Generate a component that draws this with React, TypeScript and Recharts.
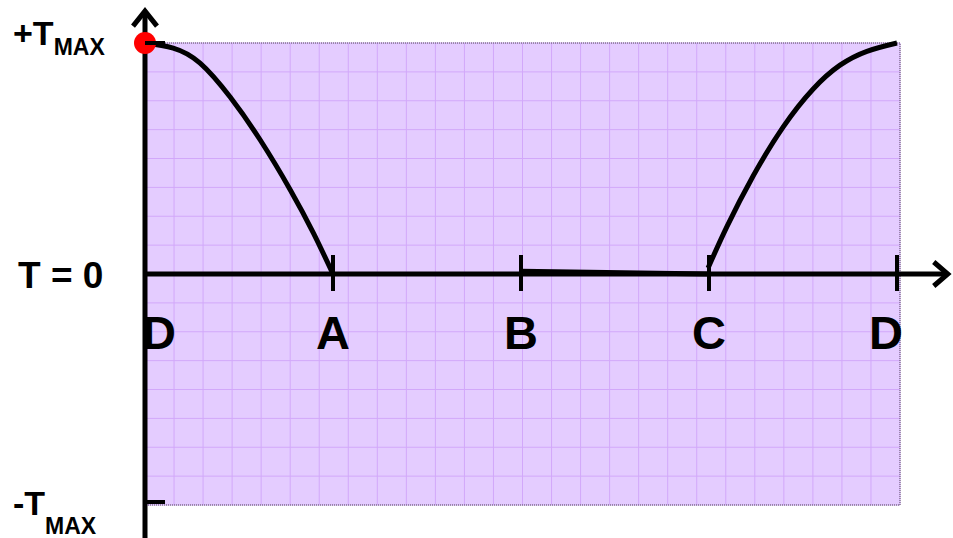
import { CartesianGrid, ComposedChart, Line, ReferenceArea, ReferenceLine, Scatter, XAxis, YAxis } from "recharts";

// ── data ───────────────────────────────────────────────
// D → A : torque falling from +Tmax to zero
const daX = [0, 0.15, 0.293, 0.453, 0.613, 0.773, 0.896, 1.0];
const daY = [1.0, 0.978, 0.913, 0.766, 0.58, 0.364, 0.177, 0.0];
// B → C : flat at zero
const bcX = [2.0, 3.0];
const bcY = [0.012, 0.0];
// C → D : rising back to +Tmax
const cdX = [2.995, 3.096, 3.234, 3.394, 3.553, 3.697, 3.84, 4.0];
const cdY = [0.026, 0.206, 0.423, 0.636, 0.8, 0.904, 0.964, 1.0];

const pointX = [0, 1, 2, 3, 4];
const pointLabels = ["D", "A", "B", "C", "D"];

const yTickValues = [1, 0, -1];
const yTickLabels = ["+T", "T = 0", "-T"];

const X_MAX = 4.016;
const xGrid = Array.from({ length: 27 }, (_, i) => (i * X_MAX) / 26);
const yGrid = Array.from({ length: 17 }, (_, i) => -1 + i * 0.125);

const zip = (xs: number[], ys: number[]) => xs.map((x, i) => ({ x, y: ys[i] }));
const daData = zip(daX, daY);
const bcData = zip(bcX, bcY);
const cdData = zip(cdX, cdY);
const letterData = pointX.map((x, i) => ({ x, y: 0, label: pointLabels[i] }));
const dotData = [{ x: 0, y: 1 }];

const FONT = "Arial, 'Liberation Sans', sans-serif";
const BG = "#E4CCFF";
const GRID = "#D2A8FA";

function YTick(props: any) {
  const { x, y, payload } = props;
  const idx = yTickValues.indexOf(payload.value);
  if (idx < 0) return <g />;
  const label = yTickLabels[idx];
  if (payload.value === 0) {
    return (
      <text x={x - 127} y={y + 14} fontFamily={FONT} fontWeight="bold" fontSize={37} fill="#000">
        {label}
      </text>
    );
  }
  const top = payload.value > 0;
  return (
    <g>
      <line x1={x} x2={x + 20} y1={top ? y : y - 3} y2={top ? y : y - 3} stroke="#000" strokeWidth={4} />
      <text x={x - 132} y={top ? y + 2 : y + 10} fontFamily={FONT} fontWeight="bold" fontSize={34} fill="#000">
        {label}
        <tspan fontSize={23} dy={top ? 10 : 19}>MAX</tspan>
      </text>
    </g>
  );
}

function LetterMark(props: any) {
  const { cx, cy, payload } = props;
  const first = payload.x === pointX[0];
  const last = payload.x === pointX[pointX.length - 1];
  return (
    <g>
      {!first && <line x1={cx} x2={cx} y1={cy - 19} y2={cy + 17} stroke="#000" strokeWidth={4} />}
      <text
        x={first ? cx - 3 : last ? cx + 6 : cx}
        y={cy + 75}
        textAnchor={first ? "start" : last ? "end" : "middle"}
        fontFamily={FONT}
        fontWeight="bold"
        fontSize={47}
        fill="#000"
      >
        {payload.label}
      </text>
    </g>
  );
}

function ArrowAxis(props: any) {
  const { x1, y1, x2, y2 } = props;
  const vertical = Math.abs(x1 - x2) < 1;
  const head = vertical
    ? `${x2 - 12},${y2 + 15} ${x2},${y2} ${x2 + 12},${y2 + 15}`
    : `${x2 - 14},${y2 - 12} ${x2},${y2} ${x2 - 14},${y2 + 12}`;
  return (
    <g>
      <line x1={x1} y1={y1} x2={x2} y2={y2} stroke="#000" strokeWidth={5} />
      <polyline points={head} fill="none" stroke="#000" strokeWidth={5} />
    </g>
  );
}

export default function App() {
  return (
    <div style={{ width: 953, height: 538, background: "#fff" }}>
      <style>{"body{margin:0}"}</style>
      <ComposedChart width={953} height={538} margin={{ top: 43, right: 53, bottom: 33, left: 0 }}>
        <XAxis type="number" dataKey="x" domain={[0, X_MAX]} ticks={xGrid} interval={0} hide />
        <YAxis
          type="number"
          dataKey="y"
          domain={[-1, 1]}
          ticks={yGrid}
          interval={0}
          width={145}
          axisLine={false}
          tickLine={false}
          tickSize={0}
          tickMargin={0}
          tick={<YTick />}
        />
        <CartesianGrid fill={BG} fillOpacity={1} stroke={GRID} strokeWidth={1} />
        <ReferenceArea
          x1={0}
          x2={X_MAX}
          y1={-1}
          y2={1}
          fill="none"
          stroke="#555"
          strokeDasharray="1 1"
          ifOverflow="visible"
        />
        <ReferenceLine
          segment={[{ x: 0, y: -1.15 }, { x: 0, y: 1.138 }]}
          ifOverflow="visible"
          shape={ArrowAxis}
        />
        <ReferenceLine
          segment={[{ x: 0, y: 0 }, { x: 4.27, y: 0 }]}
          ifOverflow="visible"
          shape={ArrowAxis}
        />
        <Scatter data={dotData} fill="#FF0000" isAnimationActive={false} shape={(p: any) => <circle cx={p.cx} cy={p.cy} r={11} fill="#FF0000" />} />
        <Scatter data={letterData} isAnimationActive={false} shape={LetterMark} />
        <Line data={daData} dataKey="y" type="natural" stroke="#000" strokeWidth={5} dot={false} isAnimationActive={false} />
        <Line data={bcData} dataKey="y" type="linear" stroke="#000" strokeWidth={5} dot={false} isAnimationActive={false} />
        <Line data={cdData} dataKey="y" type="natural" stroke="#000" strokeWidth={5} dot={false} isAnimationActive={false} />
      </ComposedChart>
    </div>
  );
}
